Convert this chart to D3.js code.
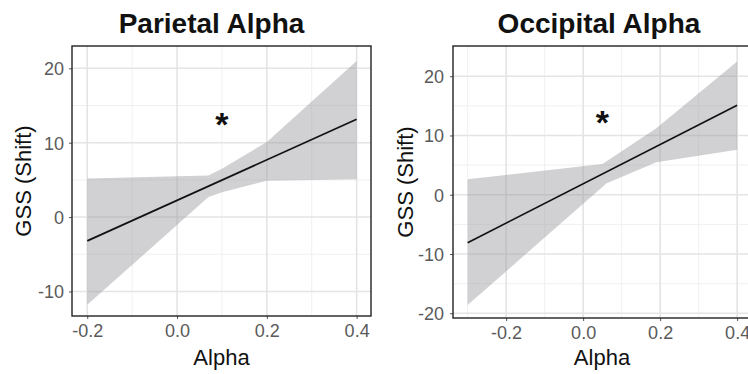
<!DOCTYPE html>
<html>
<head>
<meta charset="utf-8">
<script src="https://cdn.jsdelivr.net/npm/d3@7"></script>
<style>
  body { margin: 0; background: #fff; }
  svg { display: block; font-family: "Liberation Sans", Arial, sans-serif; }
</style>
</head>
<body>
<div id="chart"></div>
<script>
// Parietal panel values
const parietalTitle = "Parietal Alpha"
const parietalFitX = [-0.2, 0.4]
const parietalFitY = [-3.2, 13.15]
const parietalBandX = [-0.2, 0.07, 0.1, 0.2, 0.4]
const parietalUpper = [5.2, 5.6, 6.5, 10.1, 21.0]
const parietalLower = [-11.8, 2.7, 3.35, 4.9, 5.1]
const parietalStar = [0.1, 13.4]
const parietalXTicks = [-0.2, 0.0, 0.2, 0.4]
const parietalXMinor = [-0.1, 0.1, 0.3]
const parietalYTicks = [-10, 0, 10, 20]
const parietalYMinor = [-5, 5, 15]

// Occipital panel values
const occipitalTitle = "Occipital Alpha"
const occipitalFitX = [-0.3, 0.4]
const occipitalFitY = [-8.1, 15.1]
const occipitalBandX = [-0.3, 0.05, 0.06, 0.19, 0.4]
const occipitalUpper = [2.6, 5.2, 5.6, 11.2, 22.5]
const occipitalLower = [-18.6, 1.3, 1.9, 5.5, 7.6]
const occipitalStar = [0.05, 13.4]
const occipitalXTicks = [-0.2, 0.0, 0.2, 0.4]
const occipitalXMinor = [-0.3, -0.1, 0.1, 0.3]
const occipitalYTicks = [-20, -10, 0, 10, 20]
const occipitalYMinor = [-15, -5, 5, 15]

const xLabel = "Alpha"
const yLabel = "GSS (Shift)"

const svg = d3.select("#chart")
  .append("svg")
  .attr("width", 748)
  .attr("height", 374)

/**
 * Draws one regression panel (grid, ribbon, fit line, axes, labels).
 * @param p panel settings
 */
const drawPanel = (p) => {
  const xScale = d3.scaleLinear().domain(p.xDomain).range([p.left, p.left + p.width])
  const yScale = d3.scaleLinear().domain(p.yDomain).range([p.top + p.height, p.top])
  const g = svg.append("g")

  // clip so the right panel gets cut at the page edge like the original
  const clipId = "clip-" + p.id
  g.append("clipPath").attr("id", clipId)
    .append("rect")
    .attr("x", p.left).attr("y", p.top)
    .attr("width", p.width).attr("height", p.height)
  const inner = g.append("g").attr("clip-path", "url(#" + clipId + ")")

  // minor grid first, then major
  inner.selectAll(".xminor").data(p.xMinor).join("line")
    .attr("x1", d => xScale(d)).attr("x2", d => xScale(d))
    .attr("y1", p.top).attr("y2", p.top + p.height)
    .attr("stroke", "#f0f0f0").attr("stroke-width", 1)
  inner.selectAll(".yminor").data(p.yMinor).join("line")
    .attr("y1", d => yScale(d)).attr("y2", d => yScale(d))
    .attr("x1", p.left).attr("x2", p.left + p.width)
    .attr("stroke", "#f0f0f0").attr("stroke-width", 1)
  inner.selectAll(".xmajor").data(p.xTicks).join("line")
    .attr("x1", d => xScale(d)).attr("x2", d => xScale(d))
    .attr("y1", p.top).attr("y2", p.top + p.height)
    .attr("stroke", "#e4e4e4").attr("stroke-width", 1.6)
  inner.selectAll(".ymajor").data(p.yTicks).join("line")
    .attr("y1", d => yScale(d)).attr("y2", d => yScale(d))
    .attr("x1", p.left).attr("x2", p.left + p.width)
    .attr("stroke", "#e4e4e4").attr("stroke-width", 1.6)

  // confidence ribbon
  const area = d3.area()
    .x((d, i) => xScale(p.bandX[i]))
    .y0((d, i) => yScale(p.lower[i]))
    .y1((d, i) => yScale(p.upper[i]))
  inner.append("path")
    .datum(p.bandX)
    .attr("d", area)
    .attr("fill", "#9a9aa0")
    .attr("fill-opacity", 0.45)

  // fitted line
  const line = d3.line()
    .x((d, i) => xScale(p.fitX[i]))
    .y((d, i) => yScale(p.fitY[i]))
  inner.append("path")
    .datum(p.fitX)
    .attr("d", line)
    .attr("fill", "none")
    .attr("stroke", "#111")
    .attr("stroke-width", 1.7)

  // significance star
  g.append("text")
    .attr("x", xScale(p.star[0]))
    .attr("y", yScale(p.star[1]) + 19)
    .attr("text-anchor", "middle")
    .attr("font-size", 34)
    .attr("font-weight", "bold")
    .attr("fill", "#111")
    .text("*")

  // axes
  const xAxis = d3.axisBottom(xScale)
    .tickValues(p.xTicks)
    .tickFormat(d => d.toFixed(1))
    .tickSize(3)
    .tickPadding(5)
  const yAxis = d3.axisLeft(yScale)
    .tickValues(p.yTicks)
    .tickFormat(d => String(d))
    .tickSize(3)
    .tickPadding(p.yPad)

  const xg = g.append("g")
    .attr("transform", "translate(0," + (p.top + p.height) + ")")
    .call(xAxis)
  const yg = g.append("g")
    .attr("transform", "translate(" + p.left + ",0)")
    .call(yAxis)
  ;[xg, yg].forEach(a => {
    a.select(".domain").remove()
    a.selectAll(".tick line").attr("stroke", "#555")
    a.selectAll(".tick text")
      .attr("fill", "#5a5a5a")
      .attr("font-size", 18)
      .attr("font-family", "Liberation Sans, Arial, sans-serif")
  })
  yg.selectAll(".tick text").attr("dy", "0.36em")

  // panel border
  g.append("rect")
    .attr("x", p.left).attr("y", p.top)
    .attr("width", p.width).attr("height", p.height)
    .attr("fill", "none")
    .attr("stroke", "#222")
    .attr("stroke-width", 1.4)

  // title and axis titles
  g.append("text")
    .attr("x", p.left + p.width / 2 + p.titleShift)
    .attr("y", 33)
    .attr("text-anchor", "middle")
    .attr("font-size", 28)
    .attr("font-weight", "bold")
    .attr("fill", "#111")
    .text(p.title)

  g.append("text")
    .attr("x", p.left + p.width / 2)
    .attr("y", 365)
    .attr("text-anchor", "middle")
    .attr("font-size", 22)
    .attr("fill", "#111")
    .text(xLabel)

  g.append("text")
    .attr("transform", "translate(" + p.yLabelX + "," + (p.top + p.height / 2) + ") rotate(-90)")
    .attr("text-anchor", "middle")
    .attr("font-size", 22)
    .attr("fill", "#111")
    .text(yLabel)
}

drawPanel({
  id: "parietal", title: parietalTitle, titleShift: -10,
  left: 72, top: 46, width: 299, height: 270,
  xDomain: [-0.234, 0.432], yDomain: [-13.3, 23.0],
  xTicks: parietalXTicks, xMinor: parietalXMinor,
  yTicks: parietalYTicks, yMinor: parietalYMinor, yPad: 5,
  fitX: parietalFitX, fitY: parietalFitY,
  bandX: parietalBandX, upper: parietalUpper, lower: parietalLower,
  star: parietalStar, yLabelX: 31
})

drawPanel({
  id: "occipital", title: occipitalTitle, titleShift: -3,
  left: 453, top: 46, width: 298, height: 272,
  xDomain: [-0.338, 0.436], yDomain: [-20.8, 25.1],
  xTicks: occipitalXTicks, xMinor: occipitalXMinor,
  yTicks: occipitalYTicks, yMinor: occipitalYMinor, yPad: 6,
  fitX: occipitalFitX, fitY: occipitalFitY,
  bandX: occipitalBandX, upper: occipitalUpper, lower: occipitalLower,
  star: occipitalStar, yLabelX: 413
})
</script>
</body>
</html>
